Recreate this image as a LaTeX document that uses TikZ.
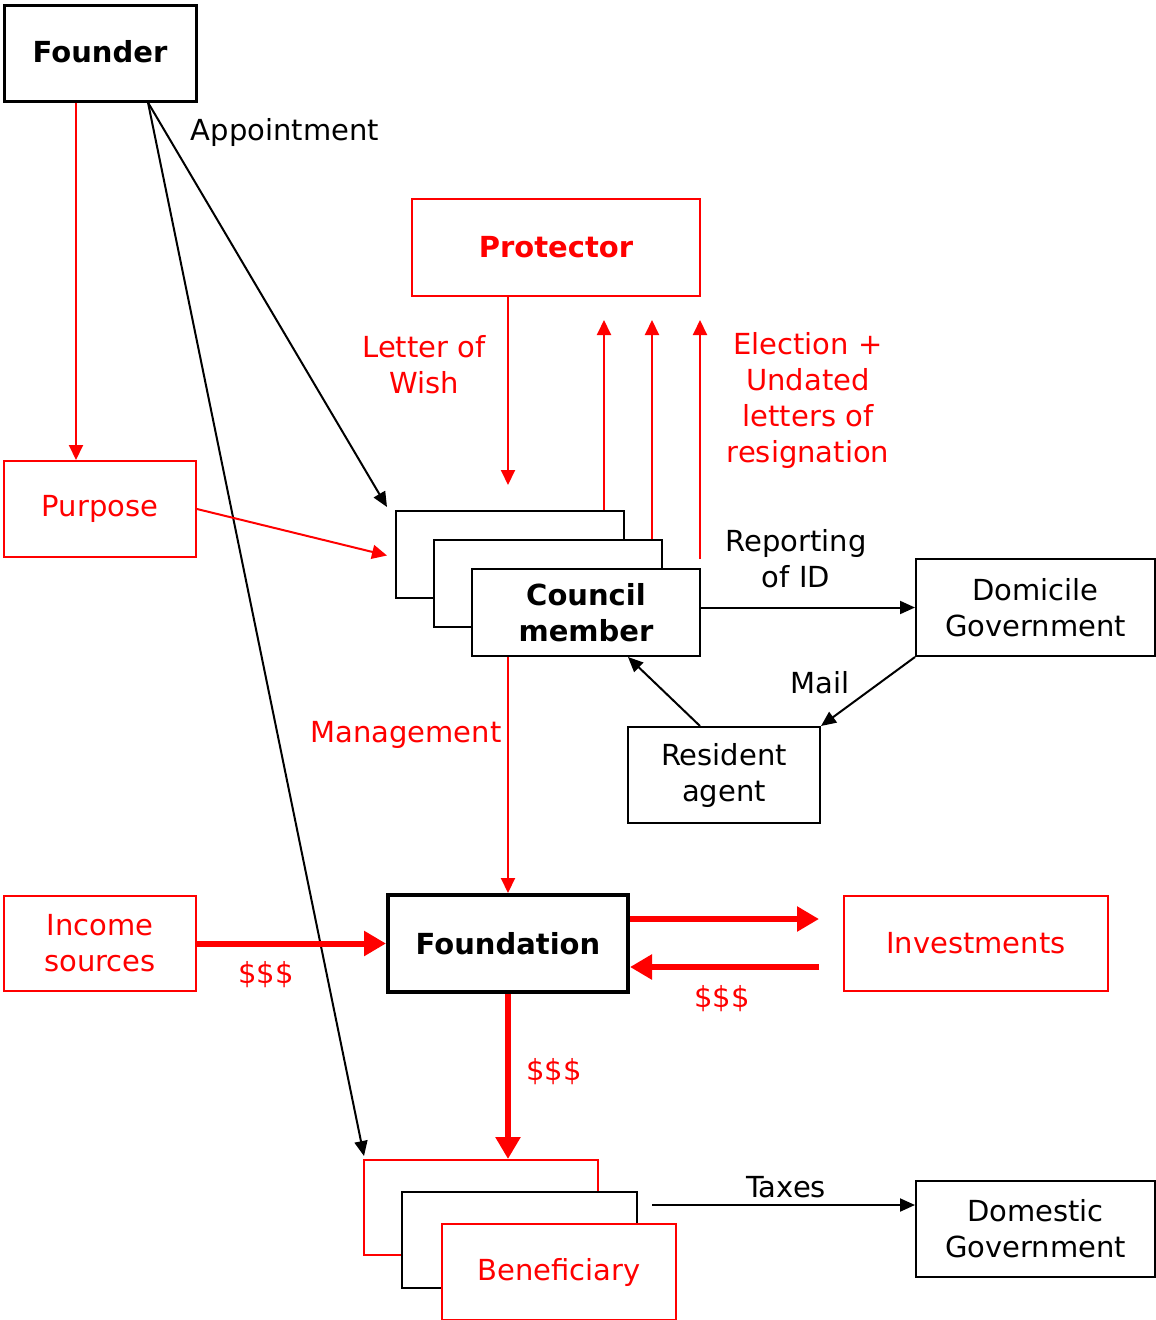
\documentclass[tikz,border=0pt]{standalone}
\usepackage{fontspec}
\setmainfont{DejaVu Sans}
\usetikzlibrary{arrows.meta}
\definecolor{rd}{RGB}{255,0,0}
\begin{document}
\begin{tikzpicture}[x=1pt,y=-1pt,
  every node/.style={font=\fontsize{29}{36}\selectfont, align=center, inner sep=0pt},
  bx/.style={draw=black, line width=2pt, fill=white},
  rbx/.style={draw=rd, line width=2pt, fill=white, text=rd},
  lbl/.style={text=black},
  rlbl/.style={text=rd},
  conn/.style={draw=black, line width=2pt, -{Triangle[length=15pt,width=13pt]}},
  rconn/.style={draw=rd, line width=2pt, -{Triangle[length=15pt,width=14pt]}},
  fat/.style={draw=rd, line width=6pt, -{Triangle[length=22pt,width=24pt]}}]
\useasboundingbox (0,0) rectangle (1156,1320);

% boxes
\node[bx, line width=3pt, minimum width=192pt, minimum height=96pt, font=\fontsize{29}{36}\selectfont\bfseries, text depth=3pt] (founder) at (100,53) {Founder};
\node[rbx, minimum width=192pt, minimum height=96pt] (purpose) at (100,509) {Purpose};
\node[rbx, minimum width=288pt, minimum height=97pt, font=\fontsize{29}{36}\selectfont\bfseries] (protector) at (556,247.5) {Protector};

\node[bx, minimum width=228pt, minimum height=87pt] (c1) at (510,554.5) {};
\node[bx, minimum width=228pt, minimum height=87pt] (c2) at (548,583.5) {};
\node[bx, minimum width=228pt, minimum height=87pt, font=\fontsize{29}{36}\selectfont\bfseries] (c3) at (586,612.5) {Council\\member};

\node[bx, minimum width=239pt, minimum height=97pt] (dom) at (1035.5,607.5) {Domicile\\Government};
\node[bx, minimum width=192pt, minimum height=96pt] (res) at (724,775) {Resident\\agent};

\node[bx, line width=4pt, minimum width=240pt, minimum height=97pt, font=\fontsize{29}{36}\selectfont\bfseries] (found) at (508,943.5) {Foundation};
\node[rbx, minimum width=192pt, minimum height=95pt] (inc) at (100,943.5) {Income\\sources};
\node[rbx, minimum width=264pt, minimum height=95pt] (inv) at (976,943.5) {Investments};

\node[rbx, minimum width=234pt, minimum height=95pt] (b1) at (481,1207.5) {};
\node[bx, minimum width=235pt, minimum height=96pt] (b2) at (519.5,1240) {};
\node[rbx, minimum width=234pt, minimum height=96pt] (b3) at (559,1272) {Beneficiary};

\node[bx, minimum width=239pt, minimum height=96pt] (domg) at (1035.5,1229) {Domestic\\Government};

% free ends
\coordinate (up1) at (604,320);
\coordinate (up2) at (652,320);
\coordinate (up3) at (700,320);
\coordinate (taxstart) at (652,1205);
\coordinate (lowtip) at (508,485);

% connectors
\draw[rconn] ([xshift=-24pt]founder.south) -- ([xshift=-24pt]purpose.north);
\draw[conn] ([xshift=48pt]founder.south) -- ([xshift=-8pt,yshift=3pt]c1.north west);
\draw[conn] ([xshift=48pt]founder.south) -- ([xshift=1pt,yshift=3pt]b1.north west);
\draw[rconn] (purpose.east) -- ([xshift=-8pt,yshift=-1pt]c1.west);
\draw[rconn] (lowtip |- protector.south) -- (lowtip);
\draw[rconn] (up1 |- c1.north) -- (up1);
\draw[rconn] (up2 |- c2.north) -- (up2);
\draw[rconn] ([yshift=9pt]up3 |- c3.north) -- (up3);
\draw[conn] (c3.east |- dom.west) -- (dom.west);
\draw[conn] (dom.south west) -- (res.north east);
\draw[conn] ([xshift=-24pt]res.north) -- ([xshift=42pt]c3.south);
\draw[rconn] (found.north |- c3.south) -- (found.north);
\draw[fat] (inc.east) -- (found.west);
\draw[fat] ([yshift=24.5pt]found.east) -- ([xshift=-24pt,yshift=24.5pt]inv.west);
\draw[fat] ([xshift=-24pt,yshift=-23.5pt]inv.west) -- ([yshift=-23.5pt]found.east);
\draw[fat] (found.south) -- (found.south |- b1.north);
\draw[conn] (taxstart) -- (taxstart -| domg.west);

% labels
\node[lbl] (lapp) at (285,132) {Appointment};
\node[rlbl] (lwish) at (424,365) {Letter of\\Wish};
\node[rlbl] (lelec) at (808,400) {Election +\\Undated\\letters of\\resignation};
\node[lbl] (lrep) at (796,559) {Reporting\\of ID};
\node[lbl] (lmail) at (820,683) {Mail};
\node[rlbl] (lman) at (406,735) {Management};
\node[rlbl] (ld1) at (266,975) {\$\$\$};
\node[rlbl] (ld2) at (722,999) {\$\$\$};
\node[rlbl] (ld3) at (554,1072) {\$\$\$};
\node[lbl] (ltax) at (786,1187) {Taxes};
\end{tikzpicture}
\end{document}
